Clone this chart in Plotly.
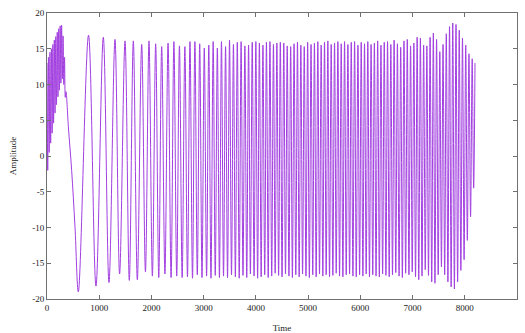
import plotly.graph_objects as go

# First rising lobe: fast ripple riding on the slow wave (alternating ripple extremes),
# followed by points on the long descent into the first trough
lobe_t = [0, 14, 28, 42, 56, 70, 84, 98, 112, 126, 140, 154, 168, 182, 196, 210,
          224, 238, 252, 266, 280, 294, 308, 322, 336, 350, 364, 409, 472, 536]
lobe_v = [13.0, -2.0, 13.8, 0.5, 14.5, 1.8, 15.0, 3.2, 15.6, 4.6, 16.2, 6.0, 16.7, 7.2,
          17.3, 8.3, 17.8, 9.2, 18.2, 10.2, 18.3, 10.8, 16.8, 10.0, 13.8, 8.2, 9.0,
          4.1, -2.0, -9.9]

# Crests of the main oscillation
peak_t = [795, 1078, 1302, 1494, 1653, 1813, 1953, 2081, 2196, 2318, 2430, 2536, 2640,
          2738, 2832, 2924, 3012, 3098, 3182, 3262, 3341, 3419, 3495, 3570, 3644, 3717,
          3789, 3860, 3930, 3999, 4067, 4135, 4202, 4269, 4336, 4402, 4468, 4534, 4600,
          4666, 4731, 4796, 4861, 4926, 4991, 5056, 5121, 5186, 5250, 5314, 5378, 5442,
          5506, 5570, 5634, 5698, 5762, 5826, 5890, 5954, 6017, 6080, 6143, 6206, 6269,
          6332, 6395, 6458, 6521, 6584, 6647, 6710, 6773, 6836, 6899, 6962, 7025, 7088,
          7150, 7212, 7274, 7336, 7398, 7460, 7522, 7584, 7646, 7708, 7770, 7832, 7894,
          7956, 8018, 8080, 8142, 8196]
peak_v = [16.9, 16.6, 16.3, 16.1, 16.1, 15.6, 16.1, 15.7, 15.3, 15.8, 16.0, 15.4, 15.3,
          16.0, 16.0, 15.7, 15.1, 15.5, 16.0, 15.1, 16.0, 15.3, 16.2, 15.6, 15.9, 16.0,
          15.4, 15.5, 15.9, 16.0, 15.8, 15.5, 15.9, 16.0, 15.6, 15.8, 15.9, 15.8, 15.4,
          15.3, 15.7, 15.9, 15.5, 15.3, 15.9, 15.6, 15.8, 16.0, 15.5, 15.9, 16.1, 15.6,
          15.8, 16.0, 15.7, 16.0, 15.6, 15.9, 16.0, 15.5, 15.9, 15.7, 16.0, 15.6, 15.8,
          16.1, 15.5, 15.9, 16.0, 15.6, 16.2, 15.7, 15.2, 16.1, 16.3, 15.4, 15.8, 16.6,
          16.5, 15.5, 15.4, 16.6, 17.2, 16.3, 14.6, 15.6, 17.1, 18.1, 18.6, 18.4, 17.6,
          16.5, 15.5, 14.3, 13.6, 13.0]

# Troughs of the main oscillation
trough_t = [600, 938, 1187, 1390, 1576, 1730, 1885, 2018, 2140, 2258, 2376, 2484, 2588,
            2690, 2786, 2878, 2968, 3056, 3140, 3222, 3302, 3380, 3457, 3533, 3607, 3681,
            3753, 3825, 3895, 3965, 4033, 4101, 4169, 4236, 4303, 4369, 4435, 4501, 4567,
            4633, 4699, 4764, 4829, 4894, 4959, 5024, 5089, 5154, 5218, 5282, 5346, 5410,
            5474, 5538, 5602, 5666, 5730, 5794, 5858, 5922, 5986, 6049, 6112, 6175, 6238,
            6301, 6364, 6427, 6490, 6553, 6616, 6679, 6742, 6805, 6868, 6931, 6994, 7057,
            7119, 7181, 7243, 7305, 7367, 7429, 7491, 7553, 7615, 7677, 7739, 7801, 7863,
            7925, 7987, 8049, 8111, 8170]
trough_v = [-19.0, -18.2, -17.7, -16.5, -17.4, -17.3, -16.2, -16.8, -17.0, -16.5, -17.0,
            -16.8, -17.0, -16.9, -17.1, -16.6, -17.0, -16.8, -17.1, -16.7, -17.0, -16.8,
            -17.0, -16.6, -16.9, -17.1, -16.7, -17.0, -16.5, -16.8, -17.1, -16.9, -16.6,
            -17.0, -16.8, -16.4, -16.7, -16.9, -16.5, -16.8, -17.0, -16.6, -16.9, -16.5,
            -16.8, -17.0, -16.6, -16.9, -16.5, -16.8, -16.6, -16.9, -16.7, -16.4, -16.8,
            -16.9, -16.6, -16.5, -16.8, -16.9, -16.6, -16.8, -16.5, -16.9, -16.6, -16.8,
            -16.9, -16.5, -16.7, -16.9, -16.6, -16.3, -16.8, -17.0, -16.4, -16.6, -16.2,
            -16.9, -17.3, -16.8, -15.9, -16.7, -17.6, -17.8, -16.6, -15.5, -16.6, -17.6,
            -18.3, -18.6, -17.6, -16.0, -14.5, -11.8, -8.5, -4.5]

x_ticks = [0, 1000, 2000, 3000, 4000, 5000, 6000, 7000, 8000, 9000]
y_ticks = [-20, -15, -10, -5, 0, 5, 10, 15, 20]

# merge every sample point in time order
pts = sorted(zip(lobe_t + peak_t + trough_t, lobe_v + peak_v + trough_v))
t = [p[0] for p in pts]
v = [p[1] for p in pts]

fig = go.Figure()
fig.add_trace(go.Scatter(
    x=t, y=v, mode="lines",
    line=dict(color="#a23fe0", width=1, shape="spline", smoothing=1),
    hoverinfo="skip", showlegend=False,
))

font = dict(family="Liberation Serif, Times New Roman, serif", size=9, color="#222")
axis_common = dict(
    showgrid=False, zeroline=False, showline=True, linecolor="#707070", linewidth=1,
    mirror="ticks", ticks="inside", ticklen=4, tickcolor="#707070", tickfont=font,
    automargin=False,
)
fig.update_xaxes(
    range=[0, 9000], tickvals=x_ticks, ticktext=[str(k) for k in x_ticks],
    title=dict(text="Time", font=font, standoff=14), **axis_common,
)
fig.update_yaxes(
    range=[-20, 20], tickvals=y_ticks, ticktext=[str(k) for k in y_ticks],
    title=dict(text="Amplitude", font=font, standoff=14), **axis_common,
)
fig.update_layout(
    width=525, height=333,
    margin=dict(l=47, r=8, t=13, b=34),
    paper_bgcolor="white", plot_bgcolor="white",
)
fig.write_html("out.html")
